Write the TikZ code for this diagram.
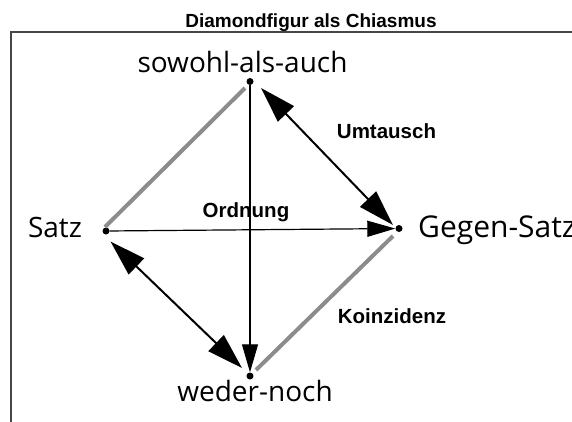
\documentclass[tikz,border=0pt]{standalone}
\usepackage{fontspec}
\setmainfont{Open Sans}
\newfontfamily\labfont{Liberation Sans}
\usetikzlibrary{arrows.meta}
\definecolor{sidegray}{RGB}{140,140,140}
\definecolor{framecol}{RGB}{70,70,70}
\begin{document}
\begin{tikzpicture}[x=1pt,y=-1pt,
  dot/.style={circle,fill=black,inner sep=0pt,minimum size=7pt},
  term/.style={font=\fontsize{28}{32}\selectfont, inner sep=0pt, anchor=base},
  rel/.style={font=\labfont\bfseries\fontsize{20.5}{24}\selectfont, inner sep=0pt, anchor=base},
  titlestyle/.style={font=\labfont\bfseries\fontsize{19}{22}\selectfont, inner sep=0pt, anchor=base},
  axis/.style={line width=1.2pt,-{Triangle[length=28pt,width=16pt]}},
  swaparrow/.style={line width=2pt,{Triangle[length=36pt,width=22pt]}-{Triangle[length=36pt,width=22pt]}},
  side/.style={line width=4pt,sidegray}]
\useasboundingbox (0,0) rectangle (572,421);
\clip (0,0) rectangle (572,421);
\fill[white] (0,0) rectangle (572,421);
\draw[framecol,line width=1.3pt] (580,32) -- (11,32) -- (11,430);
\node[titlestyle] (title) at (311,27) {Diamondfigur als Chiasmus};
% points
\node[dot] (T) at (250,81.5) {};
\node[dot] (L) at (106,231) {};
\node[dot] (R) at (399,228.5) {};
\node[dot] (B) at (250,376) {};
% terms
\node[term] (tT) at (242.5,72) {sowohl-als-auch};
\node[term] (tL) at (55,237) {Satz};
\node[term,anchor=base west,font=\fontsize{30}{34}\selectfont] (tR) at (418,237) {Gegen-Satz};
\node[term] (tB) at (255,401.5) {weder-noch};
% relation labels
\node[rel] (um) at (386.5,138) {Umtausch};
\node[rel] (ord) at (246,217.5) {Ordnung};
\node[rel] (koi) at (392,323.5) {Koinzidenz};
% gray sides
\coordinate (g1a) at (105,227);
\coordinate (g1b) at (245,88);
\coordinate (g2a) at (256,370);
\coordinate (g2b) at (393,236);
\draw[side] (g1a) -- (g1b);
\draw[side] (g2a) -- (g2b);
% axes
\draw[axis] (T) -- (B);
\draw[axis] (L) -- (R);
% exchange arrows
\coordinate (s1a) at (261,88);
\coordinate (s1b) at (393,225);
\coordinate (s2a) at (110.5,241.5);
\coordinate (s2b) at (242,368);
\draw[swaparrow] (s1a) -- (s1b);
\draw[swaparrow] (s2a) -- (s2b);
\end{tikzpicture}
\end{document}
